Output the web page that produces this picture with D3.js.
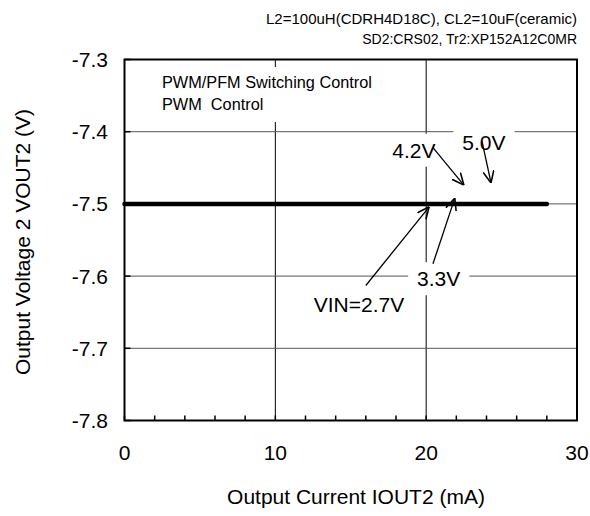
<!DOCTYPE html>
<html><head><meta charset="utf-8">
<script src="https://cdn.jsdelivr.net/npm/d3@7"></script>
<style>body{margin:0;background:#fff}svg{display:block}text{font-family:"Liberation Sans",Arial,sans-serif;fill:#000;white-space:pre}</style>
</head><body>
<script>
const currentMA = [0, 5, 10, 15, 20, 25, 28];
const voutV = [-7.5, -7.5, -7.5, -7.5, -7.5, -7.5, -7.5];
const xTicks = [0, 10, 20, 30];
const xMinorTicks = [2,4,6,8,12,14,16,18,22,24,26,28];
const yTicks = [-7.3, -7.4, -7.5, -7.6, -7.7, -7.8];
const headerLines = ["L2=100uH(CDRH4D18C), CL2=10uF(ceramic)", "SD2:CRS02, Tr2:XP152A12C0MR"];
const noteLines = ["PWM/PFM Switching Control", "PWM  Control"];
// annotations: label, label anchor (data), arrow start (data), arrow end (data)
const annLabels = ["4.2V", "5.0V", "VIN=2.7V", "3.3V"];
const annLabelPos = [[17.75, -7.436], [22.4, -7.425], [12.55, -7.650], [19.4, -7.614]];
const annFrom = [[20.45, -7.422], [23.7, -7.413], [16.0, -7.613], [20.45, -7.583]];
const annTo = [[22.5, -7.474], [24.3, -7.471], [20.2, -7.504], [21.9, -7.492]];

const W = 590, H = 516;
const m = {l:124.5, r:577, t:59.5, b:420.5};
const svg = d3.select("body").append("svg").attr("width", W).attr("height", H);
const x = d3.scaleLinear().domain([0, 30]).range([m.l, m.r]);
const y = d3.scaleLinear().domain([-7.8, -7.3]).range([m.b, m.t]);

svg.append("defs").append("marker").attr("id","ah").attr("viewBox","0 0 10 10")
  .attr("refX",10).attr("refY",5).attr("markerWidth",12).attr("markerHeight",12)
  .attr("markerUnits","userSpaceOnUse").attr("orient","auto")
  .append("path").attr("d","M0,0.5 L10,5 L0,9.5").attr("fill","none").attr("stroke","#000").attr("stroke-width",1.3);

// grid
const g = svg.append("g");
g.selectAll("line.gx").data(xTicks.slice(1, -1)).join("line")
  .attr("x1", d=>x(d)).attr("x2", d=>x(d)).attr("y1", m.t).attr("y2", m.b)
  .attr("stroke", "#000").attr("stroke-width", 1);
g.selectAll("line.gy").data(yTicks.slice(1, -1)).join("line")
  .attr("x1", m.l).attr("x2", m.r).attr("y1", d=>y(d)).attr("y2", d=>y(d))
  .attr("stroke", "#555").attr("stroke-width", 1);

// minor / major ticks inside
g.selectAll("line.mx").data(xMinorTicks.concat(xTicks)).join("line")
  .attr("x1", d=>x(d)).attr("x2", d=>x(d)).attr("y1", m.b).attr("y2", m.b-5)
  .attr("stroke", "#000").attr("stroke-width", 1.5);
g.selectAll("line.my").data(yTicks).join("line")
  .attr("x1", m.l).attr("x2", m.l+6).attr("y1", d=>y(d)).attr("y2", d=>y(d))
  .attr("stroke", "#000").attr("stroke-width", 1.5);

// note box (white, hides grid)
const note = svg.append("g");
note.append("rect").attr("x", 156).attr("y", 67).attr("width", 224).attr("height", 55).attr("fill", "#fff");
note.selectAll("text").data(noteLines).join("text")
  .attr("x", 162).attr("y", (d,i)=>88 + i*22).attr("font-size", 16.3).text(d=>d);

// data line
svg.append("path").datum(currentMA.map((c,i)=>[c, voutV[i]]))
  .attr("d", d3.line().x(d=>x(d[0])).y(d=>y(d[1])))
  .attr("fill","none").attr("stroke","#000").attr("stroke-width",4.5).attr("stroke-linecap","round");

// annotations
const ann = svg.append("g");
annLabels.forEach((t,i)=>{
  const tx = ann.append("text").attr("x", x(annLabelPos[i][0])).attr("y", y(annLabelPos[i][1]))
    .attr("font-size", 21).text(t);
  const bb = tx.node().getBBox();
  ann.insert("rect", "text").attr("x", bb.x-9).attr("y", bb.y-5).attr("width", bb.width+18).attr("height", bb.height+10).attr("fill","#fff");
});
ann.selectAll("line").data(annLabels.map((d,i)=>i)).join("line")
  .attr("x1", i=>x(annFrom[i][0])).attr("y1", i=>y(annFrom[i][1]))
  .attr("x2", i=>x(annTo[i][0])).attr("y2", i=>y(annTo[i][1]))
  .attr("stroke","#000").attr("stroke-width",1.3).attr("marker-end","url(#ah)");

// frame
svg.append("rect").attr("x", m.l).attr("y", m.t).attr("width", m.r-m.l).attr("height", m.b-m.t)
  .attr("fill","none").attr("stroke","#000").attr("stroke-width",2);

// tick labels
svg.selectAll("text.xt").data(xTicks).join("text").attr("class","xt")
  .attr("x", d=>x(d)).attr("y", 460).attr("text-anchor","middle").attr("font-size",21).text(d=>d);
svg.selectAll("text.yt").data(yTicks).join("text").attr("class","yt")
  .attr("x", 108).attr("y", d=>y(d)+7.5).attr("text-anchor","end").attr("font-size",21).text(d=>d.toFixed(1));

// titles
svg.append("text").attr("x", 356).attr("y", 504).attr("text-anchor","middle").attr("font-size",21)
  .text("Output Current IOUT2 (mA)");
svg.append("text").attr("transform","translate(30,242) rotate(-90)").attr("text-anchor","middle").attr("font-size",21)
  .text("Output Voltage 2 VOUT2 (V)");
svg.selectAll("text.hd").data(headerLines).join("text").attr("class","hd")
  .attr("x", 577).attr("y", (d,i)=>24 + i*19.5).attr("text-anchor","end").attr("font-size",(d,i)=> i===1 ? 14 : 15).text(d=>d);
</script>
</body></html>
